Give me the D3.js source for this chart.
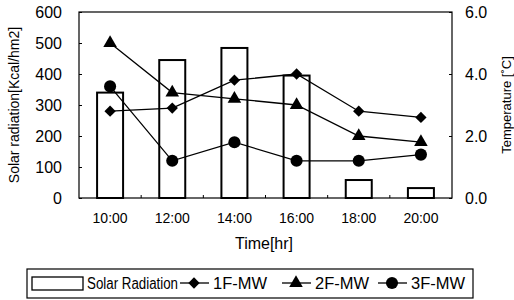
<!DOCTYPE html>
<html>
<head>
<meta charset="utf-8">
<script src="https://cdn.jsdelivr.net/npm/d3@7"></script>
<style>
body { margin: 0; background: #fff; }
text { font-family: Arial, "Liberation Sans", sans-serif; fill: #000; }
</style>
</head>
<body>
<svg id="chart" width="514" height="300"></svg>
<script>
var times = ["10:00", "12:00", "14:00", "16:00", "18:00", "20:00"];
var solar = [340, 445, 484, 395, 58, 32];
var f1 = [2.8, 2.9, 3.8, 4.0, 2.8, 2.6];
var f2 = [5.0, 3.4, 3.2, 3.0, 2.0, 1.8];
var f3 = [3.6, 1.2, 1.8, 1.2, 1.2, 1.4];
var leftTicks = [0, 100, 200, 300, 400, 500, 600];
var rightTicks = [0, 2, 4, 6];

var pLeft = 79, pRight = 452, pTop = 12, pBottom = 198;
var svg = d3.select("#chart");

var xc = d3.scaleBand().domain(times).range([pLeft, pRight]);
var yL = d3.scaleLinear().domain([0, 600]).range([pBottom, pTop]);
var yR = d3.scaleLinear().domain([0, 6]).range([pBottom, pTop]);
var cx = function(i) { return xc(times[i]) + xc.bandwidth() / 2; };

// bars
svg.selectAll("rect.bar")
    .data(solar)
    .enter()
    .append("rect")
    .attr("class", "bar")
    .attr("x", function(d, i) { return cx(i) - 13; })
    .attr("width", 26)
    .attr("y", function(d) { return yL(d); })
    .attr("height", function(d) { return pBottom - yL(d); })
    .attr("fill", "#fff")
    .attr("stroke", "#000")
    .attr("stroke-width", 2);

// frame
svg.append("rect")
    .attr("x", pLeft).attr("y", pTop)
    .attr("width", pRight - pLeft).attr("height", pBottom - pTop)
    .attr("fill", "none").attr("stroke", "#000").attr("stroke-width", 1.2);

// axes
var axL = svg.append("g").attr("transform", "translate(" + pLeft + ",0)")
    .call(d3.axisLeft(yL).tickValues(leftTicks).tickSize(-3).tickPadding(17));
var axR = svg.append("g").attr("transform", "translate(" + pRight + ",0)")
    .call(d3.axisRight(yR).tickValues(rightTicks).tickSize(-3).tickPadding(13)
        .tickFormat(d3.format(".1f")));
var axB = svg.append("g").attr("transform", "translate(0," + pBottom + ")")
    .call(d3.axisBottom(xc).tickSize(0).tickPadding(15));
[axL, axR, axB].forEach(function(a) {
    a.select(".domain").remove();
    a.selectAll("text").style("font-size", "16px").style("font-family", "Arial, 'Liberation Sans', sans-serif");
});
axB.selectAll("text").style("font-size", "14px");
// category boundary ticks
svg.selectAll("line.xt")
    .data(times.slice(1))
    .enter()
    .append("line")
    .attr("x1", function(d) { return xc(d); })
    .attr("x2", function(d) { return xc(d); })
    .attr("y1", pBottom).attr("y2", pBottom - 3)
    .attr("stroke", "#000");

// series
var series = [
    { name: "1F-MW", values: f1, shape: d3.symbolSquare, size: 64, rot: 45 },
    { name: "2F-MW", values: f2, shape: d3.symbolTriangle, size: 80, rot: 0 },
    { name: "3F-MW", values: f3, shape: d3.symbolCircle, size: 115, rot: 0 }
];
var linegen = d3.line()
    .x(function(d, i) { return cx(i); })
    .y(function(d) { return yR(d); });

series.forEach(function(s) {
    svg.append("path")
        .datum(s.values)
        .attr("d", linegen)
        .attr("fill", "none")
        .attr("stroke", "#000")
        .attr("stroke-width", 1.3);
    svg.selectAll(null)
        .data(s.values)
        .enter()
        .append("path")
        .attr("d", d3.symbol().type(s.shape).size(s.size))
        .attr("transform", function(d, i) {
            return "translate(" + cx(i) + "," + yR(d) + ") rotate(" + s.rot + ")";
        })
        .attr("fill", "#000");
});

// titles
svg.append("text")
    .attr("transform", "translate(14," + ((pTop + pBottom) / 2) + ") rotate(-90)")
    .attr("text-anchor", "middle")
    .attr("dy", "0.35em")
    .style("font-size", "14px")
    .text("Solar radiation[Kcal/hm2]");
svg.append("text")
    .attr("transform", "translate(506," + ((pTop + pBottom) / 2) + ") rotate(-90)")
    .attr("text-anchor", "middle")
    .attr("dy", "0.35em")
    .style("font-size", "13px")
    .text("Temperature [˚C]");
svg.append("text")
    .attr("x", 264).attr("y", 249)
    .attr("text-anchor", "middle")
    .style("font-size", "16px")
    .text("Time[hr]");

// legend
var lg = svg.append("g");
lg.append("rect")
    .attr("x", 27).attr("y", 269).attr("width", 446).attr("height", 29)
    .attr("fill", "#fff").attr("stroke", "#000").attr("stroke-width", 1.2);
lg.append("rect")
    .attr("x", 32).attr("y", 277).attr("width", 51).attr("height", 13)
    .attr("fill", "#fff").attr("stroke", "#000").attr("stroke-width", 1.3);
lg.append("text").attr("x", 87).attr("y", 289).style("font-size", "16px")
    .attr("textLength", 91).attr("lengthAdjust", "spacingAndGlyphs")
    .text("Solar Radiation");
var legendX = [180, 282, 378];
series.forEach(function(s, i) {
    var lx = legendX[i];
    lg.append("line")
        .attr("x1", lx).attr("x2", lx + 29).attr("y1", 283).attr("y2", 283)
        .attr("stroke", "#000").attr("stroke-width", 1.3);
    lg.append("path")
        .attr("d", d3.symbol().type(s.shape).size(s.size))
        .attr("transform", "translate(" + (lx + 14) + ",283) rotate(" + s.rot + ")")
        .attr("fill", "#000");
    lg.append("text").attr("x", lx + 33).attr("y", 289).style("font-size", "16px")
        .attr("textLength", 54).attr("lengthAdjust", "spacingAndGlyphs")
        .text(s.name);
});
</script>
</body>
</html>
